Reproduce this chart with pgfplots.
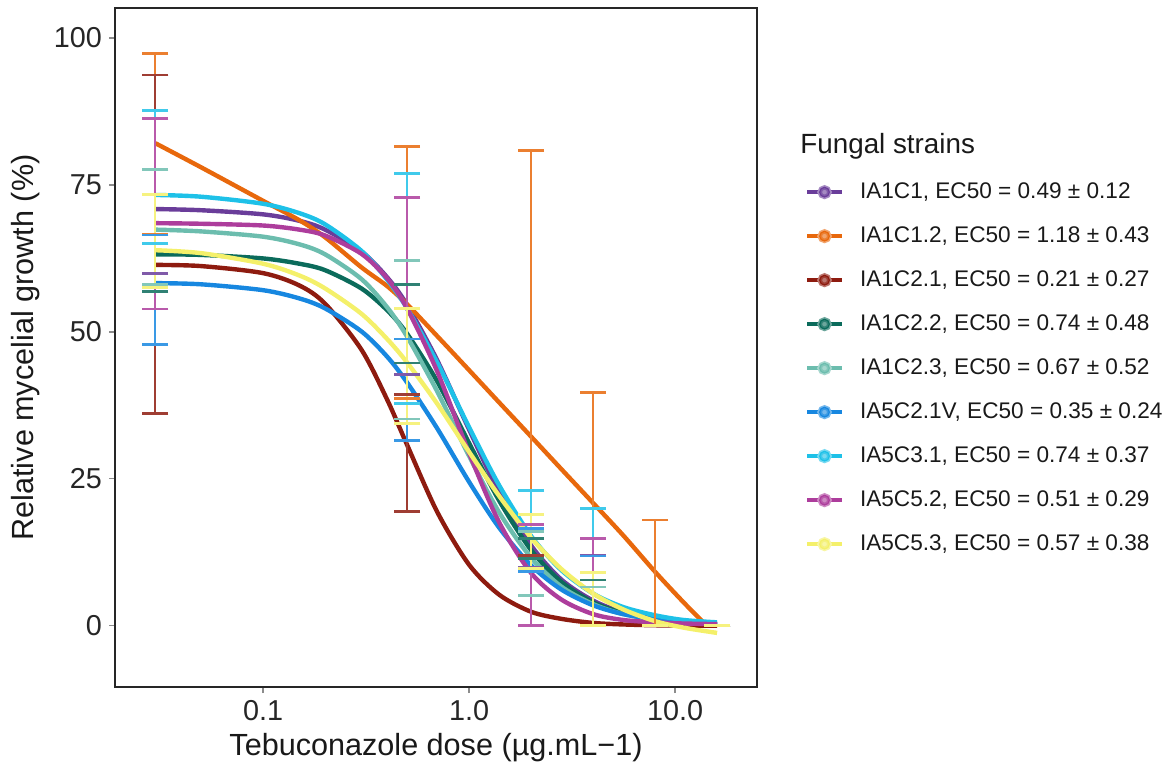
\documentclass[border=0pt]{standalone}
\usepackage{pgfplots}
\pgfplotsset{compat=1.18}
\usepackage{fontspec}
\setmainfont{Liberation Sans}

\definecolor{cPur}{HTML}{6A3D9A}
\definecolor{cOra}{HTML}{E8680C}
\definecolor{cDRed}{HTML}{8E1B0F}
\definecolor{cDTeal}{HTML}{0B6B5B}
\definecolor{cLTeal}{HTML}{6CBDAE}
\definecolor{cBlue}{HTML}{1787E0}
\definecolor{cCyan}{HTML}{1EC1E8}
\definecolor{cMag}{HTML}{AD3D9C}
\definecolor{cYel}{HTML}{F4F06A}

\pgfplotsset{
  curve/.style={smooth, line width=2.2pt, no markers, color=#1},
  ebar/.style={forget plot, color=#1!85, line width=0.9pt, mark=-, mark size=6.5pt,
    mark options={solid, line width=1.4pt}, unbounded coords=jump},
}

\begin{document}
\begin{tikzpicture}
\path[use as bounding box] (-57.5pt,-40pt) rectangle (529.5pt,343.5pt);
\begin{axis}[
  name=ax,
  at={(0,0)}, anchor=south west,
  scale only axis, width=321pt, height=339.5pt,
  xmode=log, xmin=0.0191, xmax=25, ymin=-10.4, ymax=105.1,
  xtick={0.1,1,10}, xticklabels={0.1,1.0,10.0},
  ytick={0,25,50,75,100}, yticklabels={0,25,50,75,100},
  xminorticks=false, yminorticks=false,
  xtick pos=bottom, ytick pos=left,
  tick align=outside, major tick length=3pt,
  tick style={black!45, line width=0.6pt},
  axis line style={line width=1pt, black!85},
  /pgf/number format/assume math mode=true,
  ticklabel style={font=\fontsize{14.4}{16}\selectfont, text=black!85},
  xlabel={Tebuconazole dose (µg.mL−1)},
  ylabel={Relative mycelial growth (\%)},
  every axis x label/.style={at={(axis description cs:0.5,-0.0898)}, anchor=center,
     font=\fontsize{15.3}{17}\selectfont, text=black!90},
  every axis y label/.style={at={(axis description cs:-0.140,0.5)}, rotate=90, anchor=center,
     font=\fontsize{15.3}{17}\selectfont, text=black!90},
  legend style={at={(axis description cs:1.0748,0.745)}, anchor=north west,
    draw=none, fill=none, inner sep=0pt, outer sep=0pt,
    font=\fontsize{11.3}{13}\selectfont, text=black!90,
    row sep=11pt, column sep=8pt,
    nodes={inner sep=0pt, text height=8.5pt, text depth=2.5pt, anchor=west}},
  legend cell align=left,
  legend image code/.code={
    \draw[#1, line width=2pt] (0pt,0pt) -- (17.5pt,0pt);
    \fill[white] (8.75pt,0pt) circle (2.4pt);
    \fill[#1, opacity=0.6] (8.75pt,0pt) circle (2.4pt);
    \draw[#1, line width=0.6pt] (8.75pt,0pt) circle (2.4pt);
  },
]
% ---- fitted curves ----
\addplot[curve=cPur] coordinates {
 (0.03,70.9) (0.05,70.7) (0.1,70.0) (0.15,68.9) (0.2,67.4) (0.3,63.7) (0.4,59.3)
 (0.5,54.6) (0.7,45.2) (1,33.4) (1.4,22.7) (2,13.7) (2.8,7.9) (4,4.3) (5.6,2.3)
 (8,1.2) (11,0.7) (16,0.3)};
\addlegendentry{IA1C1, EC50 = 0.49 ± 0.12}
\addplot[curve=cOra] coordinates {
 (0.03,82.1) (0.05,78.0) (0.1,72.3) (0.15,69.0) (0.2,66.1) (0.3,61.0) (0.4,57.8)
 (0.5,54.7) (0.7,49.3) (1,43.5) (1.4,38.0) (2,32.2) (2.8,26.7) (4,20.9) (5.6,15.4)
 (8,9.2) (11,4.0) (14,0.3)};
\addlegendentry{IA1C1.2, EC50 = 1.18 ± 0.43}
\addplot[curve=cDRed] coordinates {
 (0.03,61.4) (0.05,61.2) (0.1,60.0) (0.15,57.9) (0.2,54.8) (0.3,47.0) (0.4,38.5)
 (0.5,30.8) (0.7,19.4) (1,10.4) (1.4,5.3) (2,2.4) (2.8,1.2) (4,0.5) (5.6,0.24)
 (8,0.1) (11,0.05) (16,0.02)};
\addlegendentry{IA1C2.1, EC50 = 0.21 ± 0.27}
\addplot[curve=cDTeal] coordinates {
 (0.03,63.2) (0.05,63.1) (0.1,62.5) (0.15,61.6) (0.2,60.5) (0.3,57.4) (0.4,53.7)
 (0.5,49.7) (0.7,41.6) (1,31.1) (1.4,21.3) (2,12.9) (2.8,7.5) (4,4.0) (5.6,2.2)
 (8,1.1) (11,0.6) (16,0.3)};
\addlegendentry{IA1C2.2, EC50 = 0.74 ± 0.48}
\addplot[curve=cLTeal] coordinates {
 (0.03,67.4) (0.05,67.1) (0.1,66.2) (0.15,64.9) (0.2,63.2) (0.3,59.0) (0.4,54.2)
 (0.5,49.2) (0.7,39.9) (1,28.9) (1.4,19.3) (2,11.6) (2.8,6.7) (4,3.7) (5.6,2.0)
 (8,1.1) (11,0.6) (16,0.3)};
\addlegendentry{IA1C2.3, EC50 = 0.67 ± 0.52}
\addplot[curve=cBlue] coordinates {
 (0.03,58.3) (0.05,58.1) (0.1,57.1) (0.15,55.7) (0.2,54.0) (0.3,50.1) (0.4,45.8)
 (0.5,41.4) (0.7,33.6) (1,24.5) (1.4,16.7) (2,10.3) (2.8,6.2) (4,3.5) (5.6,2.0)
 (8,1.1) (11,0.6) (16,0.3)};
\addlegendentry{IA5C2.1V, EC50 = 0.35 ± 0.24}
\addplot[curve=cCyan] coordinates {
 (0.03,73.3) (0.05,73.0) (0.1,71.8) (0.15,70.2) (0.2,68.3) (0.3,63.8) (0.4,58.9)
 (0.5,54.0) (0.7,44.8) (1,33.8) (1.4,23.9) (2,15.3) (2.8,9.5) (4,5.5) (5.6,3.2)
 (8,1.8) (11,1.0) (16,0.6)};
\addlegendentry{IA5C3.1, EC50 = 0.74 ± 0.37}
\addplot[curve=cMag] coordinates {
 (0.03,68.5) (0.05,68.4) (0.1,68.1) (0.15,67.4) (0.2,66.4) (0.3,63.3) (0.4,59.1)
 (0.5,54.0) (0.7,43.3) (1,29.4) (1.4,17.6) (2,9.0) (2.8,4.5) (4,2.0) (5.6,1.0)
 (8,0.6) (11,0.4) (16,0.3)};
\addlegendentry{IA5C5.2, EC50 = 0.51 ± 0.29}
\addplot[curve=cYel] coordinates {
 (0.03,63.9) (0.05,63.4) (0.1,61.6) (0.15,59.6) (0.2,57.4) (0.3,53.1) (0.4,48.8)
 (0.5,44.8) (0.7,37.8) (1,29.6) (1.4,22.1) (2,15.0) (2.8,9.7) (4,5.5) (5.6,2.8)
 (8,0.8) (11,-0.3) (16,-1.2)};
\addlegendentry{IA5C5.3, EC50 = 0.57 ± 0.38}
% ---- error bars: (dose, mean - sd) to (dose, mean + sd) ----
\addplot[ebar=cPur] coordinates {(0.03,59.9) (0.03,93.7) (0.03,nan) (0.5,42.8) (0.5,62.1) (0.5,nan) (2,10) (2,16.5) (2,nan) (4,0) (4,12) (4,nan) (8,0) (8,0) (8,nan) (16,0) (16,0)};
\addplot[ebar=cOra] coordinates {(0.03,66.6) (0.03,97.4) (0.03,nan) (0.5,38.7) (0.5,81.6) (0.5,nan) (2,0) (2,80.8) (2,nan) (4,0) (4,39.7) (4,nan) (8,0) (8,18) (8,nan) (16,0) (16,0)};
\addplot[ebar=cDRed] coordinates {(0.03,36.1) (0.03,93.7) (0.03,nan) (0.5,19.5) (0.5,39.3) (0.5,nan) (2,0) (2,12) (2,nan) (4,0) (4,0) (4,nan) (8,0) (8,0) (8,nan) (16,0) (16,0)};
\addplot[ebar=cDTeal] coordinates {(0.03,56.9) (0.03,73.4) (0.03,nan) (0.5,44.7) (0.5,58.1) (0.5,nan) (2,11.4) (2,14.8) (2,nan) (4,0) (4,7.8) (4,nan) (8,0) (8,0) (8,nan) (16,0) (16,0)};
\addplot[ebar=cLTeal] coordinates {(0.03,58) (0.03,77.6) (0.03,nan) (0.5,35.2) (0.5,62.1) (0.5,nan) (2,5.1) (2,16) (2,nan) (4,0) (4,6.6) (4,nan) (8,0) (8,0) (8,nan) (16,0) (16,0)};
\addplot[ebar=cBlue] coordinates {(0.03,47.8) (0.03,66.5) (0.03,nan) (0.5,31.5) (0.5,48.8) (0.5,nan) (2,9.2) (2,16.5) (2,nan) (4,0) (4,11.9) (4,nan) (8,0) (8,0) (8,nan) (16,0) (16,0)};
\addplot[ebar=cCyan] coordinates {(0.03,65.1) (0.03,87.6) (0.03,nan) (0.5,37.8) (0.5,77) (0.5,nan) (2,9.8) (2,23) (2,nan) (4,0) (4,20) (4,nan) (8,0) (8,0) (8,nan) (16,0) (16,0)};
\addplot[ebar=cMag] coordinates {(0.03,53.9) (0.03,86.3) (0.03,nan) (0.5,34.4) (0.5,72.8) (0.5,nan) (2,0) (2,17.2) (2,nan) (4,0) (4,14.8) (4,nan) (8,0) (8,0) (8,nan) (16,0) (16,0)};
\addplot[ebar=cYel] coordinates {(0.03,57.5) (0.03,73.4) (0.03,nan) (0.5,34.4) (0.5,54) (0.5,nan) (2,9.8) (2,18.9) (2,nan) (4,0) (4,9.1) (4,nan) (8,0) (8,0) (8,nan) (16,0) (16,0)};
\end{axis}
\node[anchor=west, inner sep=0pt, font=\fontsize{13.9}{16}\selectfont, text=black!90]
  at ([xshift=342.5pt, yshift=270.5pt]ax.south west) {Fungal strains};
\end{tikzpicture}
\end{document}
